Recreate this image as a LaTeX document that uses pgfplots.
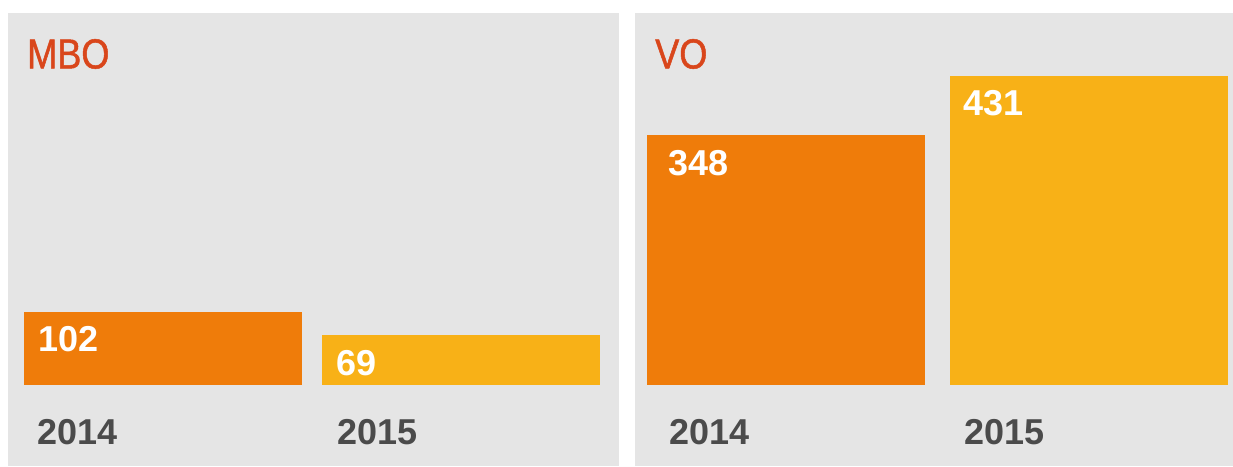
\documentclass[border=0pt]{standalone}
\usepackage{pgfplots}
\pgfplotsset{compat=1.18}
\usepackage{fontspec}
\setmainfont{Liberation Sans}
\newfontfamily\titlefont[FakeStretch=0.86, FakeBold=1.2]{Liberation Sans}
\definecolor{panelgray}{HTML}{E5E5E5}
\definecolor{barorange}{HTML}{EF7C0A}
\definecolor{baryellow}{HTML}{F8B117}
\definecolor{titlered}{HTML}{D9461B}
\definecolor{yeargray}{HTML}{4B4B4B}

\pgfplotsset{
  panel/.style={
    scale only axis, height=453pt,
    ymin=-112.81, ymax=518.11,
    axis background/.style={fill=panelgray},
    axis line style={draw=none},
    major tick length=0pt, ytick=\empty,
    xticklabel style={anchor=west, inner sep=0pt, yshift=34pt,
      font=\bfseries\fontsize{36}{38}\selectfont, text=yeargray},
    title style={at={(0,1)}, anchor=west, inner sep=0pt, yshift=-47pt,
      font=\titlefont\fontsize{42}{44}\selectfont, text=titlered},
    /pgf/number format/assume math mode=true,
    ybar, bar width=278, bar shift=0pt,
    nodes near coords,
    every node near coord/.append style={anchor=west, inner sep=0pt,
      xshift=-125pt, yshift=-27.5pt, text=white,
      font=\bfseries\fontsize{36}{38}\selectfont},
  },
}

\begin{document}
\begin{tikzpicture}
\path[use as bounding box, fill=white] (0,0) rectangle (1233pt,466pt);
% MBO
\begin{axis}[panel, at={(8pt,0pt)}, anchor=south west, width=611pt,
    xmin=8, xmax=619, xtick={37,337}, xticklabels={2014,2015},
    title={MBO}, title style={xshift=19pt}]
  \addplot[fill=barorange, draw=none] coordinates {(163,102)};
  \addplot[fill=baryellow, draw=none] coordinates {(461,69)};
\end{axis}
% VO
\begin{axis}[panel, at={(635pt,0pt)}, anchor=south west, width=598pt,
    xmin=635, xmax=1233, xtick={669,964}, xticklabels={2014,2015},
    title={VO}, title style={xshift=20pt}]
  \addplot[fill=barorange, draw=none,
    every node near coord/.append style={xshift=7pt}] coordinates {(786,348)};
  \addplot[fill=baryellow, draw=none] coordinates {(1088.5,431)};
\end{axis}
\end{tikzpicture}
\end{document}
